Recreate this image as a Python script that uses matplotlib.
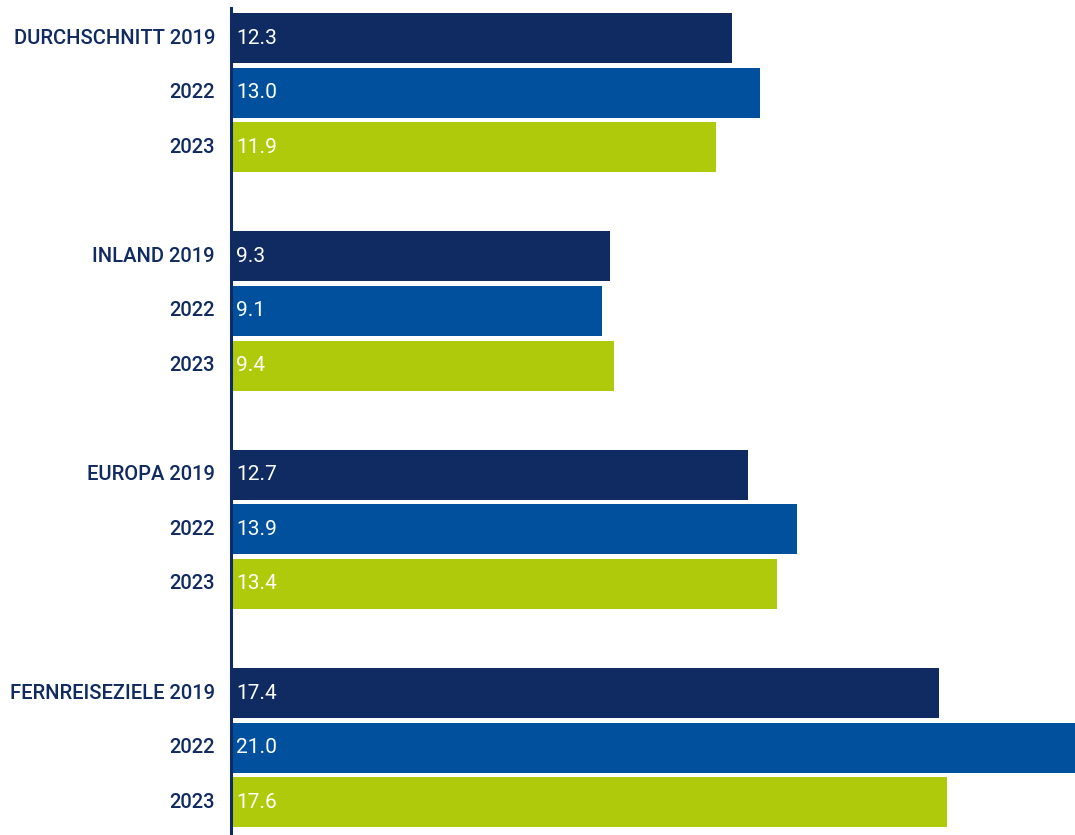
import matplotlib
matplotlib.use("Agg")
import matplotlib.pyplot as plt
from matplotlib import font_manager as fm

# Average travel spend per category and year
groups = ["DURCHSCHNITT", "INLAND", "EUROPA", "FERNREISEZIELE"]
years = ["2019", "2022", "2023"]
values_2019 = [12.3, 9.3, 12.7, 17.4]
values_2022 = [13.0, 9.1, 13.9, 21.0]
values_2023 = [11.9, 9.4, 13.4, 17.6]

colors = ["#102A62", "#00509E", "#AECA0A"]
label_color = "#102A62"


def roboto(filename, size):
    for f in fm.fontManager.ttflist:
        if f.fname.endswith("/" + filename):
            return fm.FontProperties(fname=f.fname, size=size)
    return fm.FontProperties(family="DejaVu Sans", size=size)


label_font = roboto("Roboto-Medium.ttf", 14.5)
value_font = roboto("Roboto-Regular.ttf", 15)

fig = plt.figure(figsize=(10.75, 8.35), dpi=100)
W, H = 1075, 835
left_px, top_px, bottom_px = 233, 8, 835
ax = fig.add_axes([left_px / W, 0, 1 - left_px / W, (bottom_px - top_px) / H])

series = [values_2019, values_2022, values_2023]
positions, vals, cols, labels = [], [], [], []
for g, name in enumerate(groups):
    for k, yr in enumerate(years):
        positions.append(g * 4 + k)
        vals.append(series[k][g])
        cols.append(colors[k])
        labels.append(f"{name} {yr}" if k == 0 else yr)

ax.barh(positions, vals, height=0.916, color=cols, left=0)

for p, v, lab in zip(positions, vals, labels):
    # value inside the bar
    ax.annotate(f"{v:.1f}", xy=(0, p), xytext=(2.5, 0), textcoords="offset points",
                ha="left", va="center", color="white", fontproperties=value_font)
    # category / year label left of the axis line
    ax.annotate(lab, xy=(0, p), xytext=(-13, 0), textcoords="offset points",
                ha="right", va="center", color=label_color, fontproperties=label_font,
                annotation_clip=False)

ax.set_yticks([])
ax.set_xticks([])

ax.set_xlim(0, (W - left_px) / 40.57)
ax.set_ylim(14.6, -0.55)

for s in ["top", "right", "bottom"]:
    ax.spines[s].set_visible(False)
ax.spines["left"].set_color(label_color)
ax.spines["left"].set_linewidth(2.2)
ax.spines["left"].set_position(("outward", 1.5))

fig.savefig("out.png", dpi=100)
